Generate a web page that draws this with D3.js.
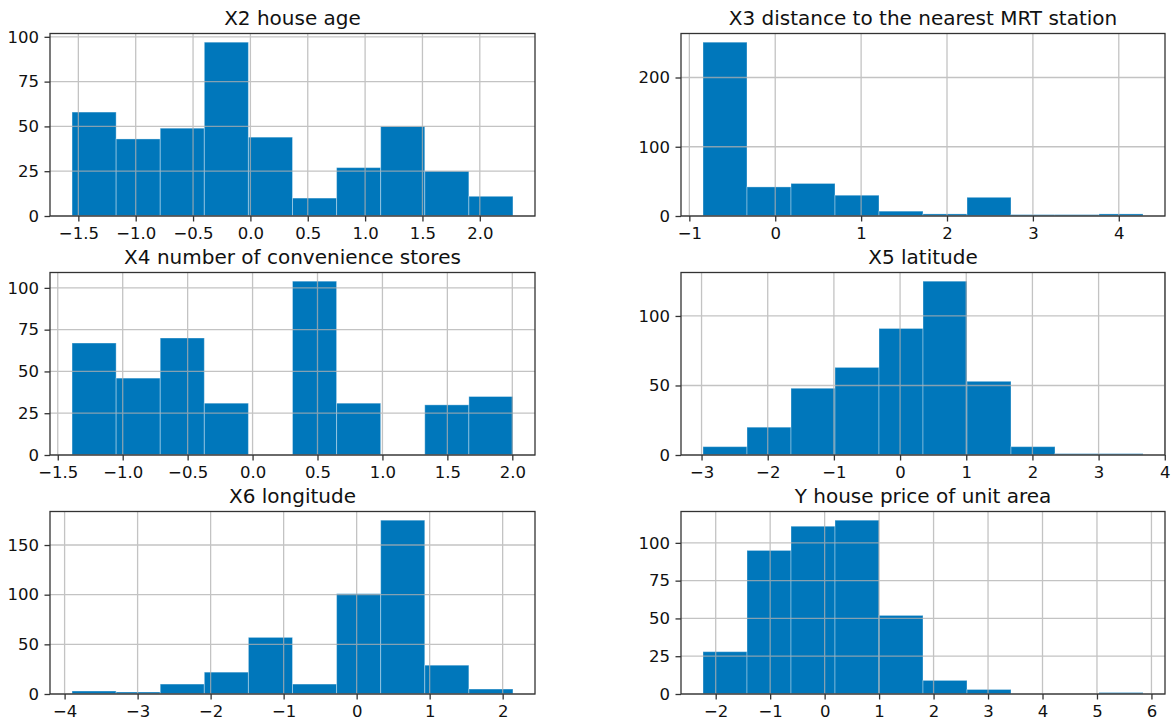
<!DOCTYPE html>
<html>
<head>
<meta charset="utf-8">
<script src="https://cdn.jsdelivr.net/npm/d3@7"></script>
<style>
  html, body { margin: 0; padding: 0; background: #ffffff; }
  svg { display: block; font-family: "DejaVu Sans", sans-serif; }
</style>
</head>
<body>
<svg id="chart" width="1172" height="722"></svg>
<script>
// ---- data ----
const titles = [
  "X2 house age",
  "X3 distance to the nearest MRT station",
  "X4 number of convenience stores",
  "X5 latitude",
  "X6 longitude",
  "Y house price of unit area"
];
// data range (min, max) of each standardized variable; 10 equal-width bins
const rangeX2 = [-1.555, 2.289];
const rangeX3 = [-0.841, 4.282];
const rangeX4 = [-1.390, 2.005];
const rangeX5 = [-2.978, 3.671];
const rangeX6 = [-3.898, 2.141];
const rangeY  = [-2.233, 5.845];

const countsX2 = [58, 43, 49, 97, 44, 10, 27, 50, 25, 11];
const countsX3 = [251, 42, 47, 30, 7, 3, 27, 2, 2, 3];
const countsX4 = [67, 46, 70, 31, 0, 104, 31, 0, 30, 35];
const countsX5 = [6, 20, 48, 63, 91, 125, 53, 6, 1, 1];
const countsX6 = [3, 2, 10, 22, 57, 10, 101, 175, 29, 5];
const countsY  = [28, 95, 111, 115, 52, 9, 3, 0, 0, 1];

const xTicksX2 = [-1.5, -1.0, -0.5, 0.0, 0.5, 1.0, 1.5, 2.0];
const xTicksX3 = [-1, 0, 1, 2, 3, 4];
const xTicksX4 = [-1.5, -1.0, -0.5, 0.0, 0.5, 1.0, 1.5, 2.0];
const xTicksX5 = [-3, -2, -1, 0, 1, 2, 3, 4];
const xTicksX6 = [-4, -3, -2, -1, 0, 1, 2];
const xTicksY  = [-2, -1, 0, 1, 2, 3, 4, 5, 6];

const yTicksX2 = [0, 25, 50, 75, 100];
const yTicksX3 = [0, 100, 200];
const yTicksX4 = [0, 25, 50, 75, 100];
const yTicksX5 = [0, 50, 100];
const yTicksX6 = [0, 50, 100, 150];
const yTicksY  = [0, 25, 50, 75, 100];

const xFormats = [".1f", "d", ".1f", "d", "d", "d"];

// ---- layout ----
const panels = [
  {range: rangeX2, counts: countsX2, xt: xTicksX2, yt: yTicksX2},
  {range: rangeX3, counts: countsX3, xt: xTicksX3, yt: yTicksX3},
  {range: rangeX4, counts: countsX4, xt: xTicksX4, yt: yTicksX4},
  {range: rangeX5, counts: countsX5, xt: xTicksX5, yt: yTicksX5},
  {range: rangeX6, counts: countsX6, xt: xTicksX6, yt: yTicksX6},
  {range: rangeY,  counts: countsY,  xt: xTicksY,  yt: yTicksY}
];
const colX = [[50, 535], [681, 1165]];
const rowY = [[33.5, 216], [272.5, 455], [511.5, 694]];

const BAR = "#0077bb";
const GRID = "#b0b0b0";
const SPINE = "#333333";
const TXT = "#111111";
const TICK_FS = "16.5px";
const TITLE_FS = "20px";

const svg = d3.select("#chart");

panels.forEach((p, i) => {
  const [x0, x1] = colX[i % 2];
  const [y0, y1] = rowY[Math.floor(i / 2)];
  const nb = p.counts.length;
  const w = (p.range[1] - p.range[0]) / nb;
  const edges = d3.range(nb + 1).map(k => p.range[0] + k * w);
  const bins = p.counts.map((c, k) => ({x0: edges[k], x1: edges[k + 1], c}));
  const span = p.range[1] - p.range[0];
  const x = d3.scaleLinear()
    .domain([p.range[0] - 0.05 * span, p.range[1] + 0.05 * span])
    .range([x0, x1]);
  const ymax = d3.max(p.counts) * 1.05;
  const y = d3.scaleLinear().domain([0, ymax]).range([y1, y0]);

  const g = svg.append("g");

  // bars
  g.append("g").selectAll("rect").data(bins).join("rect")
    .attr("x", d => x(d.x0))
    .attr("width", d => x(d.x1) - x(d.x0))
    .attr("y", d => y(d.c))
    .attr("height", d => y(0) - y(d.c))
    .attr("fill", BAR)
    .attr("stroke", d => d.c > 0 ? "rgba(255,255,255,0.35)" : "none")
    .attr("stroke-width", 1);

  // grid (drawn above the bars)
  const grid = g.append("g").attr("stroke", GRID).attr("stroke-width", 1.3).attr("opacity", 0.75);
  grid.selectAll("line.v").data(p.xt).join("line").attr("class", "v")
    .attr("x1", d => x(d)).attr("x2", d => x(d))
    .attr("y1", y0).attr("y2", y1);
  grid.selectAll("line.h").data(p.yt).join("line").attr("class", "h")
    .attr("x1", x0).attr("x2", x1)
    .attr("y1", d => y(d)).attr("y2", d => y(d));

  // axes
  const xAxis = d3.axisBottom(x).tickValues(p.xt).tickFormat(d3.format(xFormats[i]))
    .tickSize(5.5).tickPadding(5.5);
  const yAxis = d3.axisLeft(y).tickValues(p.yt).tickFormat(d3.format("d"))
    .tickSize(5.5).tickPadding(5.5);

  const gx = g.append("g").attr("transform", `translate(0,${y1})`).call(xAxis);
  const gy = g.append("g").attr("transform", `translate(${x0},0)`).call(yAxis);
  [gx, gy].forEach(a => {
    a.select(".domain").remove();
    a.selectAll(".tick line").attr("stroke", SPINE).attr("stroke-width", 1.3);
    a.selectAll(".tick text").attr("fill", TXT)
      .style("font-size", TICK_FS).style("font-family", "DejaVu Sans, sans-serif");
  });

  // spines
  g.append("rect")
    .attr("x", x0).attr("y", y0)
    .attr("width", x1 - x0).attr("height", y1 - y0)
    .attr("fill", "none").attr("stroke", SPINE).attr("stroke-width", 1.3);

  // title
  g.append("text")
    .attr("x", (x0 + x1) / 2).attr("y", y0 - 9)
    .attr("text-anchor", "middle")
    .attr("fill", TXT)
    .style("font-size", TITLE_FS)
    .text(titles[i]);
});
</script>
</body>
</html>
